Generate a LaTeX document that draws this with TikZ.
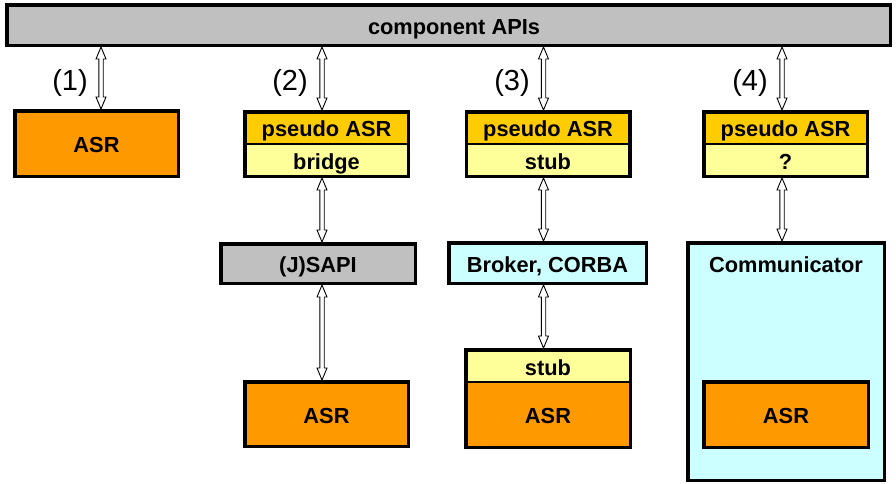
\documentclass[tikz,border=0pt]{standalone}
\usepackage{fontspec}
\setmainfont{Liberation Sans}
\usetikzlibrary{calc}

\definecolor{apigray}{HTML}{C0C0C0}
\definecolor{asrorange}{HTML}{FF9900}
\definecolor{pseudogold}{HTML}{FFCC00}
\definecolor{paleyellow}{HTML}{FFFF99}
\definecolor{palecyan}{HTML}{CCFFFF}

\tikzset{
  boxfont/.style={font=\fontsize{21.8}{25}\selectfont\bfseries,
    text height=18.6pt, text depth=0pt},
  frame/.style={draw=black, line width=3.5pt, rectangle, inner sep=0pt, boxfont},
  part/.style={rectangle, inner sep=0pt, outer sep=0pt, boxfont},
  divider/.style={draw=black, line width=1.2pt},
  numlabel/.style={font=\fontsize{29}{32}\selectfont, inner sep=0pt},
  % hollow double-shafted arrow with a head at each end (drawn top to bottom)
  biarrow/.style={draw=black, line width=0.9pt, fill=white, line join=miter,
    to path={
      let \p1=(\tikztostart), \p2=(\tikztotarget) in
      (\x1,\y1) -- (\x1+5pt,\y1-12pt) -- (\x1+2.2pt,\y1-12pt)
      -- (\x1+2.2pt,\y2+12pt) -- (\x1+5pt,\y2+12pt) -- (\x1,\y2)
      -- (\x1-5pt,\y2+12pt) -- (\x1-2.2pt,\y2+12pt)
      -- (\x1-2.2pt,\y1-12pt) -- (\x1-5pt,\y1-12pt) -- cycle
    }},
}

\begin{document}
\begin{tikzpicture}[x=1pt,y=-1pt]
\useasboundingbox (0,0) rectangle (896,483);

% top bar
\node[frame, fill=apigray, minimum width=883.5pt, minimum height=40.5pt] (api) at (448.5,25) {};
\node[part] (apitext) at (454,25) {component APIs};

% (1) native recogniser
\node[frame, fill=asrorange, minimum width=163.5pt, minimum height=65.5pt] (asr1) at (96.5,143.5) {ASR};

% (2) bridge to (J)SAPI
\node[part, fill=pseudogold, minimum width=163.5pt, minimum height=33pt] (p2top) at (326.5,127.5) {pseudo ASR};
\node[part, fill=paleyellow, minimum width=163.5pt, minimum height=32pt] (p2bot) at (326.5,160.5) {bridge};
\draw[divider] (p2top.south west) -- (p2top.south east);
\node[frame, minimum width=163.5pt, minimum height=64.5pt] (p2) at (326.5,144) {};

\node[frame, fill=apigray, minimum width=194.5pt, minimum height=39.5pt] (sapi) at (318,263.5) {(J)SAPI};
\node[frame, fill=asrorange, minimum width=163.5pt, minimum height=64.5pt] (asr2) at (326.5,414) {ASR};

% (3) stub through a broker
\node[part, fill=pseudogold, minimum width=163.5pt, minimum height=33pt] (p3top) at (548,127.5) {pseudo ASR};
\node[part, fill=paleyellow, minimum width=163.5pt, minimum height=32pt] (p3bot) at (548,160.5) {stub};
\draw[divider] (p3top.south west) -- (p3top.south east);
\node[frame, minimum width=163.5pt, minimum height=64.5pt] (p3) at (548,144) {};

\node[frame, fill=palecyan, minimum width=197.5pt, minimum height=40.5pt] (broker) at (547.5,263) {Broker, CORBA};

\node[part, fill=paleyellow, minimum width=164.5pt, minimum height=32pt] (s3top) at (548,366) {stub};
\node[part, fill=asrorange, minimum width=164.5pt, minimum height=64pt] (s3bot) at (548,414) {ASR};
\draw[divider] (s3top.south west) -- (s3top.south east);
\node[frame, minimum width=164.5pt, minimum height=97.5pt] (asr3) at (548,398.5) {};

% (4) unknown adapter to a communicator
\node[part, fill=pseudogold, minimum width=163.5pt, minimum height=33pt] (p4top) at (785.5,127.5) {pseudo ASR};
\node[part, fill=paleyellow, minimum width=163.5pt, minimum height=32pt] (p4bot) at (785.5,160.5) {?};
\draw[divider] (p4top.south west) -- (p4top.south east);
\node[frame, minimum width=163.5pt, minimum height=64.5pt] (p4) at (785.5,144) {};

\node[frame, fill=palecyan, minimum width=196.5pt, minimum height=237.5pt] (comm) at (786,361.5) {};
\node[part] (commtext) at (786,263) {Communicator};
\node[frame, fill=asrorange, minimum width=164.5pt, minimum height=65.5pt] (asr4) at (786,414.5) {ASR};

% variant numbers
\node[numlabel] (n1) at (70,82.5) {(1)};
\node[numlabel] (n2) at (290,82.5) {(2)};
\node[numlabel] (n3) at (512,82.5) {(3)};
\node[numlabel] (n4) at (750,82.5) {(4)};

% arrow positions
\coordinate (ax1) at (101,0);
\coordinate (ax2) at (322,0);
\coordinate (ax3) at (543.5,0);
\coordinate (ax4) at (782,0);

% connectors
\draw[biarrow] (api.south -| ax1) to (asr1.north -| ax1);
\draw[biarrow] (api.south -| ax2) to (p2.north -| ax2);
\draw[biarrow] (p2.south -| ax2) to (sapi.north -| ax2);
\draw[biarrow] (sapi.south -| ax2) to (asr2.north -| ax2);
\draw[biarrow] (api.south -| ax3) to (p3.north -| ax3);
\draw[biarrow] (p3.south -| ax3) to (broker.north -| ax3);
\draw[biarrow] (broker.south -| ax3) to (asr3.north -| ax3);
\draw[biarrow] (api.south -| ax4) to (p4.north -| ax4);
\draw[biarrow] (p4.south -| ax4) to (comm.north -| ax4);
\end{tikzpicture}
\end{document}
